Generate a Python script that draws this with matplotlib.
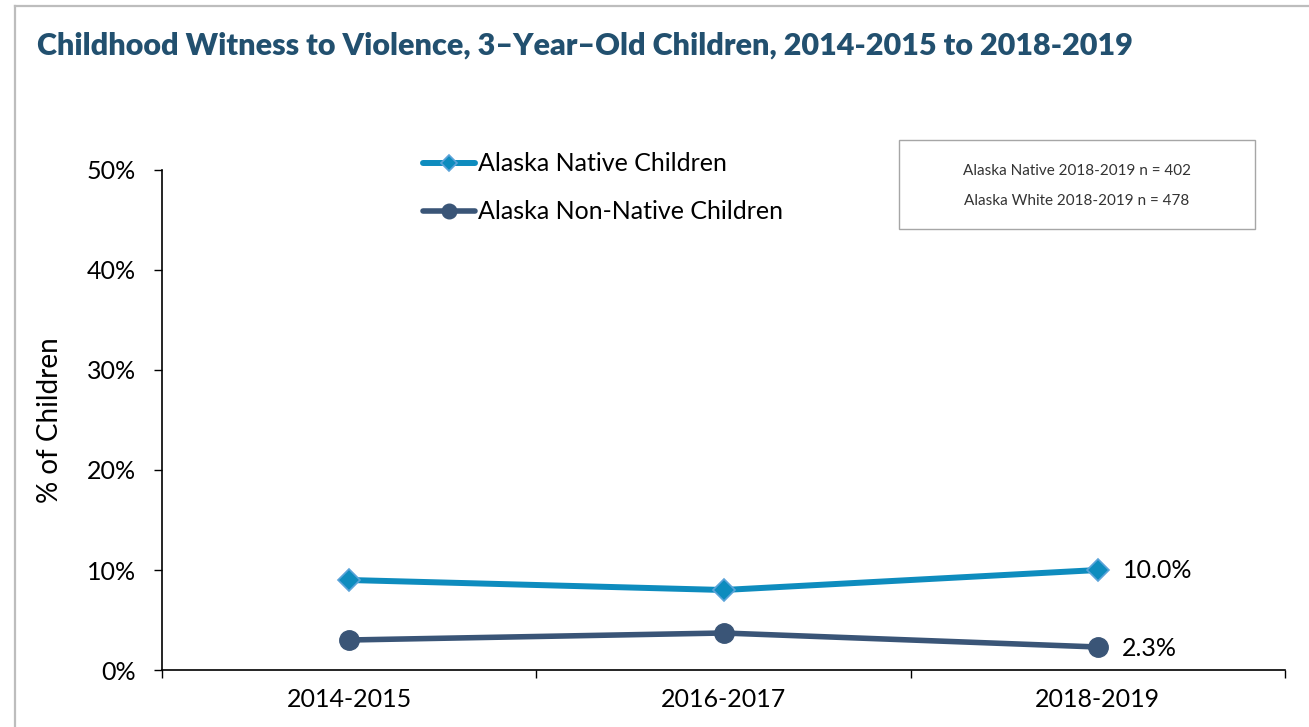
import matplotlib.pyplot as plt
from matplotlib.lines import Line2D
from matplotlib.patches import Rectangle

years = ["2014-2015", "2016-2017", "2018-2019"]
native = [9.0, 8.0, 10.0]
non_native = [3.0, 3.7, 2.3]
native_label = "Alaska Native Children"
non_native_label = "Alaska Non-Native Children"
note_lines = ["Alaska Native 2018-2019 n = 402", "Alaska White 2018-2019 n = 478"]

plt.rcParams['font.family'] = ['Lato', 'DejaVu Sans']

fig = plt.figure(figsize=(13.09, 7.27), dpi=100)
ax = fig.add_axes([162 / 1309, 1 - 670 / 727, 1123 / 1309, 500 / 727])

x = list(range(len(years)))
ax.plot(x, native, color='#0E8CBE', lw=4.3, marker='D', markersize=11,
        markerfacecolor='#0E8CBE', markeredgecolor='#5BA3D9', markeredgewidth=1.2,
        label=native_label, solid_capstyle='round')
ax.plot(x, non_native, color='#3A5577', lw=4.0, marker='o', markersize=14,
        markerfacecolor='#3A5577', markeredgecolor='#3A5577',
        label=non_native_label, solid_capstyle='round')

# end labels
ax.annotate(f"{native[-1]:.1f}%", (x[-1], native[-1]), xytext=(18, 0),
            textcoords='offset points', va='center', ha='left', fontsize=18)
ax.annotate(f"{non_native[-1]:.1f}%", (x[-1], non_native[-1]), xytext=(17, -1),
            textcoords='offset points', va='center', ha='left', fontsize=18)

ax.set_xlim(-0.5, len(years) - 0.5)
ax.set_ylim(0, 50)
ax.set_yticks([0, 10, 20, 30, 40, 50])
ax.set_yticklabels([f"{v}%" for v in [0, 10, 20, 30, 40, 50]])
ax.set_xticks([i - 0.5 for i in range(len(years) + 1)])
ax.set_xticklabels([])
ax.set_xticks(x, minor=True)
ax.set_xticklabels(years, minor=True)
ax.tick_params(axis='x', which='major', direction='out', length=6, width=1)
ax.tick_params(axis='x', which='minor', length=0, pad=13, labelsize=18)
ax.tick_params(axis='y', direction='out', length=6, width=1, pad=13, labelsize=18)

for s in ['top', 'right']:
    ax.spines[s].set_visible(False)
for s in ['left', 'bottom']:
    ax.spines[s].set_linewidth(1.2)

ax.set_ylabel("% of Children", fontsize=20)
ax.yaxis.set_label_coords(-0.088, 0.5)

ax.legend(loc='upper left', bbox_to_anchor=((410 - 162) / 1123, (670 - 140) / 500),
          frameon=False, fontsize=18, handlelength=2.1, handletextpad=0.1,
          labelspacing=1.0, markerscale=0.75, borderpad=0)

fig.text(37 / 1309, 1 - 46 / 727, "Childhood Witness to Violence, 3\u2013Year\u2013Old Children, 2014-2015 to 2018-2019",
         fontsize=22, fontweight='heavy', color='#22506F', va='center', ha='left')

# note box
fig.patches.append(Rectangle((899 / 1309, 1 - 229 / 727), 356 / 1309, 89 / 727,
                             transform=fig.transFigure, fill=False,
                             edgecolor='#A6A6A6', lw=1))
fig.text(1077 / 1309, 1 - 171 / 727, note_lines[0], fontsize=11, color='#333333',
         ha='center', va='center')
fig.text(1077 / 1309, 1 - 201 / 727, note_lines[1], fontsize=11, color='#333333',
         ha='center', va='center')

# outer frame
fig.lines.append(Line2D([15 / 1309, 1], [1 - 6 / 727, 1 - 6 / 727],
                        transform=fig.transFigure, color='#BDBDBD', lw=1.6))
fig.lines.append(Line2D([15 / 1309, 15 / 1309], [0, 1 - 6 / 727],
                        transform=fig.transFigure, color='#BDBDBD', lw=1.6))

fig.savefig("out.png", dpi=100)
